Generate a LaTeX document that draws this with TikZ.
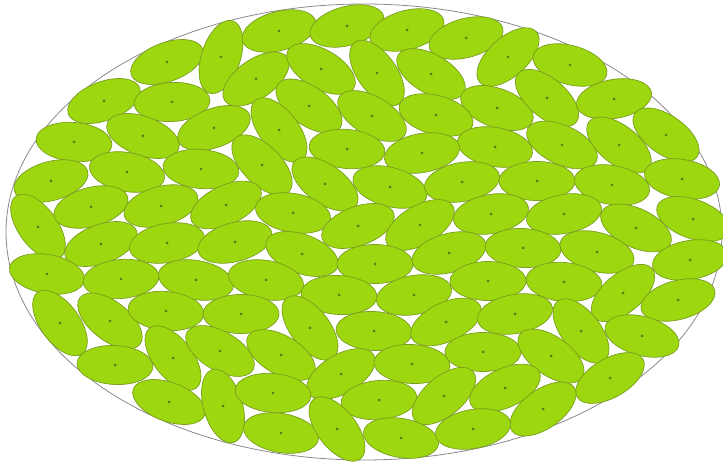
\documentclass[tikz,border=0pt]{standalone}
\usepackage{tikz}
\definecolor{leafgreen}{HTML}{9CD70F}
\definecolor{leafedge}{HTML}{7A9E1E}
\definecolor{leafdot}{HTML}{5A7A1A}
\definecolor{rimgray}{HTML}{8A8A8A}

\begin{document}
\begin{tikzpicture}[
  x=1pt, y=-1pt,
  leaf/.style={draw=leafedge, fill=leafgreen, line width=0.7pt},
  pip/.style={fill=leafdot},
  rim/.style={draw=rimgray, line width=0.8pt}
]
  \useasboundingbox (0,0) rectangle (723,462);
  \draw[rim] (364,232) ellipse (358 and 228);
  % centre x / centre y / tilt of each seed
  \foreach \cx/\cy/\ang in {
    104/101/20, 167/62/20, 221/57/72, 279/31/15, 347/26/15, 407/30/15, 466/38/15, 508/57/42, 570/65/-15,
    172/102/3, 256/79/35, 321/69/-30, 377/73/-54, 431/74/-30, 497/108/-20, 547/98/-40, 614/99/10,
    74/142/-5, 143/136/-20, 214/128/20, 309/106/-35, 372/116/-30, 436/115/-15, 495/147/-10, 562/145/-25, 619/145/-38, 666/135/-35,
    51/181/15, 127/172/-10, 201/169/-5, 279/130/-52, 347/149/-5, 422/153/10, 262/165/-45, 325/184/-35, 390/187/-15, 462/182/10, 537/181/0, 612/185/-10, 682/179/-10,
    38/227/-54, 91/207/15, 161/206/15, 226/205/25, 293/213/-10, 358/226/20, 420/225/30, 491/214/10, 564/214/10, 636/228/-25, 693/219/-20,
    101/244/20, 167/243/10, 235/242/15, 302/254/-20, 375/264/0, 449/253/15, 523/248/-3, 597/252/-15, 690/260/10,
    47/274/-10, 121/279/5, 196/280/-10, 266/280/-10, 339/295/-3, 414/295/10, 488/281/0, 564/282/-5, 623/293/40, 678/300/15,
    60/323/-54, 110/321/-38, 166/311/-5, 241/314/0, 310/328/-52, 374/331/-3, 446/322/25, 515/314/10, 581/331/-52, 642/336/-15,
    115/365/-3, 173/358/-52, 220/351/-30, 281/355/-30, 341/374/30, 412/364/-3, 483/352/0, 551/356/-35, 610/378/30,
    169/402/-20, 223/406/-74, 273/393/-5, 379/400/5, 444/396/40, 505/388/25, 543/409/35,
    281/433/-10, 337/429/-52, 401/438/-10, 473/429/10}{
    \draw[leaf, rotate around={\ang:(\cx,\cy)}] (\cx,\cy) ellipse (38 and 19.5);
    \fill[pip] (\cx,\cy) circle (1.5);
  }
\end{tikzpicture}
\end{document}
